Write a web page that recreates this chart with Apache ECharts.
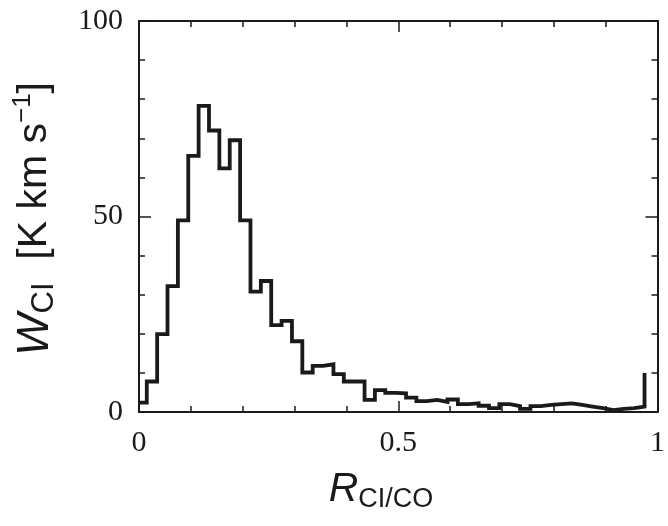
<!DOCTYPE html>
<html>
<head>
<meta charset="utf-8">
<script src="https://cdn.jsdelivr.net/npm/echarts@6/dist/echarts.min.js"></script>
<style>
  html, body { margin: 0; padding: 0; background: #fff; }
  #chart { width: 668px; height: 526px; }
</style>
</head>
<body>
<div id="chart"></div>
<script>
// Left edges of the histogram bins in R(CI/CO); the last entry only draws its rising edge
const binLeft = [
  0, 0.015, 0.035, 0.055, 0.075, 0.095, 0.115, 0.135, 0.155, 0.175,
  0.195, 0.215, 0.235, 0.255, 0.275, 0.295, 0.315, 0.335, 0.355, 0.375,
  0.395, 0.415, 0.435, 0.455, 0.475, 0.495, 0.515, 0.535, 0.555, 0.575,
  0.595, 0.615, 0.635, 0.655, 0.675, 0.695, 0.715, 0.735, 0.755, 0.775,
  0.795, 0.815, 0.835, 0.855, 0.875, 0.895, 0.915, 0.935, 0.955, 0.975
];
// Integrated CI intensity per bin [K km s^-1]
const wCI = [
  2.4, 7.8, 19.9, 32.2, 49.0, 65.5, 78.3, 72.0, 62.3, 69.5,
  49.0, 30.8, 33.5, 22.2, 23.3, 18.1, 10.1, 11.8, 12.2, 9.7,
  7.8, 7.8, 3.1, 5.6, 4.9, 4.8, 3.7, 2.8, 3.1, 2.6,
  3.2, 2.0, 2.2, 1.6, 1.0, 2.0, 1.5, 0.8, 1.5, 1.8,
  2.0, 2.2, 1.8, 1.4, 1.0, 0.5, 0.8, 1.0, 1.4, 10
];
const xTickLabels = { 0: '0', 0.5: '0.5', 1: '1' };
const yTickLabels = { 0: '0', 50: '50', 100: '100' };

// Expand bins into a stepped outline
const stepPoints = [];
for (let i = 0; i < binLeft.length; i++) {
  const right = i + 1 < binLeft.length ? binLeft[i + 1] : binLeft[i];
  stepPoints.push([binLeft[i], wCI[i]]);
  stepPoints.push([right, wCI[i]]);
}

const ink = '#1a1a1a';
const frame = { show: true, onZero: false, lineStyle: { color: ink, width: 2 } };
const serif = "'Liberation Serif', 'Times New Roman', serif";
const sans = "'Liberation Sans', Arial, sans-serif";

function xAxisDef(pos, showLabel) {
  return {
    type: 'value', position: pos, min: 0, max: 1, interval: 0.5,
    axisLine: frame,
    axisTick: { show: true, inside: true, length: 11, lineStyle: { color: ink, width: 1.5 } },
    minorTick: { show: true, splitNumber: 5, length: 6, lineStyle: { color: ink, width: 1.5 } },
    splitLine: { show: false }, minorSplitLine: { show: false },
    axisLabel: {
      show: showLabel, margin: 16, color: ink, fontFamily: serif, fontSize: 30,
      formatter: v => xTickLabels[v] !== undefined ? xTickLabels[v] : ''
    }
  };
}
function yAxisDef(pos, showLabel) {
  return {
    type: 'value', position: pos, min: 0, max: 100, interval: 50,
    axisLine: frame,
    axisTick: { show: true, inside: true, length: 12, lineStyle: { color: ink, width: 1.5 } },
    minorTick: { show: true, splitNumber: 5, length: 6, lineStyle: { color: ink, width: 1.5 } },
    splitLine: { show: false }, minorSplitLine: { show: false },
    axisLabel: {
      show: showLabel, margin: 16, color: ink, fontFamily: serif, fontSize: 30,
      formatter: v => yTickLabels[v] !== undefined ? yTickLabels[v] : ''
    }
  };
}

const chart = echarts.init(document.getElementById('chart'), null, { renderer: 'canvas' });
chart.setOption({
  animation: false,
  backgroundColor: '#fff',
  grid: { left: 139, top: 21, width: 522, height: 391, containLabel: false },
  xAxis: [xAxisDef('bottom', true), xAxisDef('top', false)],
  yAxis: [yAxisDef('left', true), yAxisDef('right', false)],
  series: [{
    type: 'line',
    xAxisIndex: 0, yAxisIndex: 0,
    data: stepPoints,
    showSymbol: false,
    lineStyle: { color: ink, width: 3.8, join: 'miter' },
    silent: true
  }],
  graphic: [
    {
      type: 'text', x: 35, y: 219, rotation: Math.PI / 2,
      style: {
        text: '{w|W}{s|CI}{n|  [K km s}{p|−1}{n|]}',
        align: 'center', verticalAlign: 'middle',
        fill: ink,
        rich: {
          w: { fontFamily: sans, fontStyle: 'italic', fontSize: 45, lineHeight: 50, verticalAlign: 'middle' },
          s: { fontFamily: sans, fontSize: 31, lineHeight: 28, verticalAlign: 'bottom' },
          n: { fontFamily: sans, fontSize: 41, lineHeight: 50, verticalAlign: 'middle' },
          p: { fontFamily: sans, fontSize: 26, lineHeight: 26, verticalAlign: 'top' }
        }
      }
    },
    {
      type: 'text', x: 381, y: 490,
      style: {
        text: '{r|R}{s|CI/CO}',
        align: 'center', verticalAlign: 'middle',
        fill: ink,
        rich: {
          r: { fontFamily: sans, fontStyle: 'italic', fontSize: 41, lineHeight: 46, verticalAlign: 'middle' },
          s: { fontFamily: sans, fontSize: 27, lineHeight: 26, verticalAlign: 'bottom' }
        }
      }
    }
  ]
});
</script>
</body>
</html>
